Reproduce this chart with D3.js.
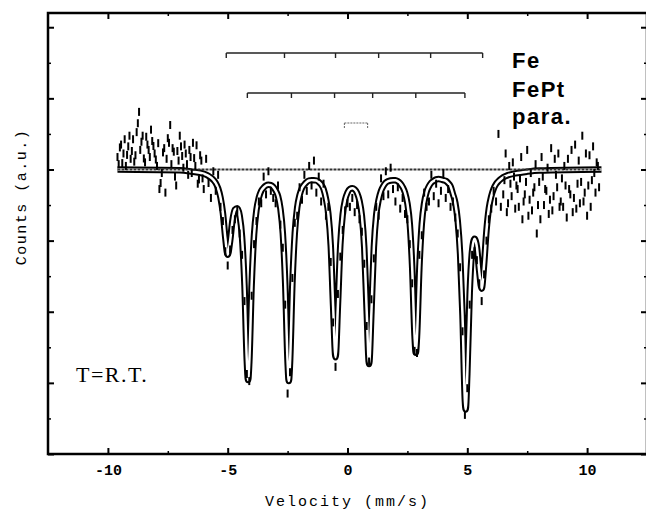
<!DOCTYPE html>
<html>
<head>
<meta charset="utf-8">
<script src="https://cdn.jsdelivr.net/npm/d3@7"></script>
<style>
  body { margin: 0; background: #fff; }
</style>
</head>
<body>
<div id="plot"></div>
<script>
// measured spectrum: [velocity (mm/s), relative counts (%)]
const spectrum = [
  [-9.6,100.35],[-9.5,100.62],[-9.4,100.18],[-9.3,100.85],[-9.2,100.41],[-9.1,100.95],[-9.0,100.52],[-8.9,100.22],
  [-8.8,101.05],[-8.7,101.62],[-8.6,100.78],[-8.5,100.31],[-8.4,100.92],[-8.3,100.55],[-8.2,101.12],[-8.1,100.66],
  [-8.0,100.28],[-7.9,100.74],[-7.8,99.62],[-7.7,100.48],[-7.6,99.35],[-7.5,100.88],[-7.4,101.25],[-7.3,100.60],
  [-7.2,99.80],[-7.1,100.52],[-7.0,100.95],[-6.9,100.38],[-6.8,100.70],[-6.7,100.15],[-6.6,100.55],[-6.5,99.90],
  [-6.4,100.32],[-6.3,100.68],[-6.2,99.72],[-6.1,100.25],
  [-6.0,99.45],[-5.9,100.30],[-5.8,99.62],[-5.7,99.20],[-5.6,99.95],[-5.5,99.40],[-5.4,99.85],[-5.3,98.95],
  [-5.2,98.55],[-5.1,97.70],[-5.0,97.30],[-4.9,97.75],[-4.8,98.30],[-4.7,98.60],[-4.6,98.85],[-4.5,98.20],
  [-4.4,97.60],[-4.3,96.30],[-4.2,94.25],[-4.1,94.05],[-4.0,96.45],[-3.9,97.90],[-3.8,98.55],[-3.7,99.10],
  [-3.6,99.05],[-3.5,99.80],[-3.4,99.30],[-3.3,99.95],[-3.2,99.40],[-3.1,99.20],[-3.0,99.05],[-2.9,99.55],
  [-2.8,98.45],[-2.7,97.80],[-2.6,96.20],[-2.5,93.70],[-2.4,94.30],[-2.3,96.95],[-2.2,98.50],[-2.1,98.70],
  [-2.0,99.50],[-1.9,99.15],[-1.8,99.85],[-1.7,99.40],[-1.6,100.10],[-1.5,99.55],[-1.4,100.25],[-1.3,99.35],
  [-1.2,99.80],[-1.1,99.10],[-1.0,99.60],[-0.9,98.70],[-0.8,98.95],[-0.7,97.40],[-0.6,95.70],[-0.5,94.45],
  [-0.4,96.50],[-0.3,97.55],[-0.2,98.30],[-0.1,98.85],[0.0,99.05],[0.1,98.95],[0.2,99.20],[0.3,98.80],
  [0.4,99.00],[0.5,98.60],[0.6,98.25],[0.7,97.35],[0.8,95.60],[0.9,94.60],[1.0,96.35],[1.1,97.50],
  [1.2,98.95],[1.3,98.70],[1.4,99.75],[1.5,99.25],[1.6,99.95],[1.7,99.30],[1.8,100.05],[1.9,99.45],
  [2.0,99.10],[2.1,99.50],[2.2,98.90],[2.3,99.20],[2.4,98.75],[2.5,98.60],[2.6,97.90],[2.7,96.80],
  [2.8,94.90],[2.9,94.84],[3.0,97.60],[3.1,98.15],[3.2,99.35],[3.3,98.95],[3.4,99.10],[3.5,99.85],
  [3.6,99.25],[3.7,99.60],[3.8,99.05],[3.9,99.40],[4.0,99.90],[4.1,99.20],[4.2,99.45],[4.3,98.95],
  [4.4,99.10],[4.5,98.65],[4.6,98.20],[4.7,97.25],[4.8,95.45],[4.9,93.10],[5.0,93.85],[5.1,96.20],
  [5.2,97.60],[5.3,97.70],[5.4,97.45],[5.5,96.80],[5.6,96.30],[5.7,97.05],[5.8,98.00],[5.9,98.60],
  [6.0,98.90],[6.1,99.40],[6.2,99.10],[6.3,101.00],[6.4,98.95],[6.5,99.30],
  [6.6,100.45],[6.7,99.05],[6.8,99.60],[6.9,100.20],[7.0,98.90],[7.1,99.45],[7.2,99.75],[7.3,98.60],
  [7.4,99.30],[7.5,100.55],[7.6,99.15],[7.7,98.85],[7.8,99.50],[7.9,98.20],[8.0,99.65],[8.1,100.35],
  [8.2,99.00],[8.3,99.40],[8.4,98.75],[8.5,100.60],[8.6,99.25],[8.7,99.85],[8.8,100.45],[8.9,99.10],
  [9.0,98.95],[9.1,99.55],[9.2,100.30],[9.3,99.30],[9.4,98.80],[9.5,100.70],[9.6,99.60],[9.7,99.05],
  [9.8,100.95],[9.9,99.35],[10.0,98.70],[10.1,100.40],[10.2,99.70],[10.3,99.90],[10.4,100.20],[10.5,99.50],
  // second sweep on the wings
  [-9.55,100.15],[-9.45,100.70],[-9.35,100.45],[-9.25,100.10],[-9.15,100.65],[-9.05,100.30],[-8.95,100.85],[-8.85,100.40],
  [-8.75,101.30],[-8.65,100.55],[-8.55,100.95],[-8.45,100.20],[-8.35,100.70],[-8.25,100.35],[-8.15,100.80],[-8.05,100.45],
  [-7.95,100.10],[-7.85,99.45],[-7.75,99.90],[-7.65,100.60],[-7.55,100.30],[-7.45,100.75],[-7.35,100.15],[-7.25,100.50],
  [-7.15,99.55],[-7.05,100.25],[-6.95,100.65],[-6.85,100.05],[-6.75,100.45],[-6.65,99.85],[-6.55,100.35],[-6.45,100.75],
  [-6.35,100.10],[-6.25,99.60],[-6.15,100.40],[-6.05,99.75],
  [6.55,99.70],[6.65,98.80],[6.75,100.10],[6.85,99.25],[6.95,99.80],[7.05,99.55],[7.15,98.95],[7.25,100.35],
  [7.35,99.10],[7.45,99.65],[7.55,98.70],[7.65,99.90],[7.75,99.35],[7.85,100.15],[7.95,99.00],[8.05,98.60],
  [8.15,99.80],[8.25,99.45],[8.35,100.05],[8.45,99.15],[8.55,98.85],[8.65,100.30],[8.75,99.50],[8.85,98.95],
  [8.95,99.75],[9.05,100.10],[9.15,98.65],[9.25,99.45],[9.35,100.55],[9.45,99.20],[9.55,98.90],[9.65,100.25],
  [9.75,99.65],[9.85,99.10],[9.95,100.45],[10.05,99.55],[10.15,98.95],[10.25,100.65],[10.35,99.35],[10.45,100.10]
];

// fitted envelope: [velocity, counts]
const fitCurve = [
  [-9.6,100.00],[-7.0,99.98],[-6.5,99.94],[-6.0,99.88],[-5.8,99.82],[-5.6,99.71],[-5.5,99.62],[-5.4,99.47],
  [-5.3,99.21],[-5.2,98.77],[-5.1,98.08],[-5.0,97.60],[-4.9,97.99],[-4.8,98.57],[-4.7,98.87],[-4.6,98.91],
  [-4.5,98.70],[-4.4,98.09],[-4.3,96.75],[-4.2,94.59],[-4.15,94.08],[-4.1,94.57],[-4.0,96.77],[-3.9,98.17],
  [-3.8,98.86],[-3.7,99.21],[-3.6,99.40],[-3.5,99.49],[-3.4,99.55],[-3.3,99.57],[-3.2,99.56],[-3.1,99.51],
  [-3.0,99.41],[-2.9,99.25],[-2.8,98.90],[-2.7,98.21],[-2.6,96.80],[-2.5,94.58],[-2.45,94.05],[-2.4,94.55],
  [-2.3,96.79],[-2.2,98.21],[-2.1,98.93],[-2.0,99.28],[-1.9,99.48],[-1.8,99.58],[-1.7,99.65],[-1.6,99.69],
  [-1.5,99.70],[-1.4,99.70],[-1.3,99.69],[-1.2,99.65],[-1.1,99.58],[-1.0,99.45],[-0.9,99.18],[-0.8,98.75],
  [-0.7,97.87],[-0.6,96.16],[-0.5,94.72],[-0.4,96.18],[-0.3,97.88],[-0.2,98.74],[-0.1,99.15],[0.0,99.35],
  [0.1,99.45],[0.2,99.47],[0.3,99.44],[0.4,99.34],[0.5,99.12],[0.6,98.70],[0.7,97.80],[0.8,96.04],
  [0.9,94.53],[1.0,96.02],[1.1,97.81],[1.2,98.73],[1.3,99.15],[1.4,99.40],[1.5,99.54],[1.6,99.63],
  [1.7,99.67],[1.8,99.69],[1.9,99.70],[2.0,99.70],[2.1,99.67],[2.2,99.61],[2.3,99.51],[2.4,99.35],
  [2.5,99.05],[2.6,98.47],[2.7,97.24],[2.8,95.30],[2.85,94.85],[2.9,95.30],[3.0,97.24],[3.1,98.47],
  [3.2,99.06],[3.3,99.37],[3.4,99.53],[3.5,99.63],[3.6,99.68],[3.7,99.72],[3.8,99.73],[3.9,99.72],
  [4.0,99.70],[4.1,99.68],[4.2,99.62],[4.3,99.53],[4.4,99.31],[4.5,99.06],[4.6,98.56],[4.7,97.62],
  [4.8,95.90],[4.9,93.49],[4.93,93.25],[5.0,94.25],[5.1,96.53],[5.2,97.71],[5.3,98.05],[5.4,97.82],
  [5.5,97.12],[5.6,96.65],[5.7,97.33],[5.8,98.28],[5.9,98.91],[6.0,99.25],[6.1,99.46],[6.2,99.59],
  [6.3,99.67],[6.4,99.73],[6.5,99.78],[6.7,99.84],[7.0,99.89],[7.5,99.94],[8.0,99.97],[10.6,100.00]
];

// stick diagrams (line positions, mm/s)
const feLines = [-5.06, -2.63, -0.50, 1.30, 3.47, 5.64];
const feptLines = [-4.18, -2.34, -0.54, 1.05, 2.85, 4.90];
const paraLines = [-0.13, 0.84];
const legendNames = ['Fe', 'FePt', 'para.'];

const xTicks = [-10, -5, 0, 5, 10];
const xMinorTicks = [-7.5, -2.5, 2.5, 7.5];
const yTicks = [92, 94, 96, 98, 100, 102, 104];
const yMinorTicks = [93, 95, 97, 99, 101, 103];

const width = 646;
const height = 516;
const margin = {top: 13, right: -1, bottom: 62, left: 48};

const svg = d3.select('#plot')
    .append('svg')
    .attr('width', width)
    .attr('height', height)
    .attr('viewBox', [0, 0, width, height]);

const x = d3.scaleLinear()
    .domain([-12.5, 12.5])
    .range([margin.left, width - margin.right]);

const y = d3.scaleLinear()
    .domain([92, 104.4])
    .range([height - margin.bottom, margin.top]);

const axisFont = 'Liberation Mono, DejaVu Sans Mono, monospace';

// ticks on all four sides, pointing inward
function ticks(g, axis, major, minor, labels) {
    g.call(axis.tickValues(major).tickSize(-6).tickPadding(10)
            .tickFormat(labels ? d3.format('d') : ''))
        .call(g => g.select('.domain').remove())
        .call(g => g.selectAll('line').attr('stroke-width', 2));
    g.append('g').call(axis.tickValues(minor).tickSize(-3).tickFormat(''))
        .call(g => g.select('.domain').remove())
        .call(g => g.selectAll('line').attr('stroke-width', 1.5));
}

svg.append('g')
    .attr('transform', `translate(0,${height - margin.bottom})`)
    .call(g => ticks(g, d3.axisBottom(x), xTicks, xMinorTicks, true))
    .attr('font-family', axisFont)
    .attr('font-size', 15)
    .attr('font-weight', 'bold');

svg.append('g')
    .attr('transform', `translate(0,${margin.top})`)
    .call(g => ticks(g, d3.axisTop(x), xTicks, xMinorTicks, false));

svg.append('g')
    .attr('transform', `translate(${margin.left},0)`)
    .call(g => ticks(g, d3.axisLeft(y), yTicks, yMinorTicks, false));

svg.append('g')
    .attr('transform', `translate(${width - margin.right},0)`)
    .call(g => ticks(g, d3.axisRight(y), yTicks, yMinorTicks, false));

svg.selectAll('.tick text').text(function() {
    return this.textContent.replace('\u2212', '-');
});

// frame
svg.append('rect')
    .attr('x', margin.left)
    .attr('y', margin.top)
    .attr('width', width - margin.right - margin.left)
    .attr('height', height - margin.bottom - margin.top)
    .attr('fill', 'none')
    .attr('stroke', '#000')
    .attr('stroke-width', 2.5);

// fitted curve, drawn as a hollow thick line like the scan
const line = d3.line()
    .x(d => x(d[0]))
    .y(d => y(d[1]))
    .curve(d3.curveMonotoneX);

svg.append('path')
    .datum(fitCurve)
    .attr('fill', 'none')
    .attr('stroke', '#000')
    .attr('stroke-width', 6.5)
    .attr('d', line);

svg.append('path')
    .datum(fitCurve)
    .attr('fill', 'none')
    .attr('stroke', '#fff')
    .attr('stroke-width', 2.5)
    .attr('d', line);

// baseline
svg.append('line')
    .attr('x1', x(-9.6))
    .attr('x2', x(10.6))
    .attr('y1', y(100))
    .attr('y2', y(100))
    .attr('stroke', '#333')
    .attr('stroke-width', 2)
    .attr('stroke-dasharray', '3,1');

// data points (short vertical marks)
svg.append('g')
    .attr('stroke', '#000')
    .attr('stroke-width', 2)
    .selectAll('line')
    .data(spectrum)
    .join('line')
    .attr('x1', d => x(d[0]))
    .attr('x2', d => x(d[0]))
    .attr('y1', d => y(d[1]) - 4)
    .attr('y2', d => y(d[1]) + 4);

// stick diagrams
const stickLevels = [53, 93, 123];
[feLines, feptLines, paraLines].forEach((lines, i) => {
    const g = svg.append('g')
        .attr('stroke', i === 2 ? '#666' : '#222')
        .attr('stroke-width', i === 2 ? 1 : 1.4)
        .attr('stroke-dasharray', i === 2 ? '2,1' : null);
    g.append('line')
        .attr('x1', x(d3.min(lines)))
        .attr('x2', x(d3.max(lines)))
        .attr('y1', stickLevels[i])
        .attr('y2', stickLevels[i]);
    g.selectAll('.stick')
        .data(lines)
        .join('line')
        .attr('class', 'stick')
        .attr('x1', d => x(d))
        .attr('x2', d => x(d))
        .attr('y1', stickLevels[i])
        .attr('y2', stickLevels[i] + 5);
});

svg.append('g')
    .attr('font-family', 'Liberation Sans, Arial, sans-serif')
    .attr('font-weight', 'bold')
    .attr('font-size', 22)
    .attr('letter-spacing', 1.5)
    .selectAll('text')
    .data(legendNames)
    .join('text')
    .attr('x', 512)
    .attr('y', (d, i) => [68, 97, 124][i])
    .text(d => d);

// labels
svg.append('text')
    .attr('x', 76)
    .attr('y', 382)
    .attr('font-family', 'Liberation Serif, Times New Roman, serif')
    .attr('font-size', 22)
    .attr('letter-spacing', 1.5)
    .text('T=R.T.');

svg.append('text')
    .attr('x', (margin.left + width - margin.right) / 2)
    .attr('y', 506)
    .attr('text-anchor', 'middle')
    .attr('font-family', axisFont)
    .attr('font-size', 15)
    .attr('letter-spacing', 2)
    .text('Velocity (mm/s)');

svg.append('text')
    .attr('transform', 'translate(22,197) rotate(-90)')
    .attr('text-anchor', 'middle')
    .attr('dominant-baseline', 'central')
    .attr('font-family', axisFont)
    .attr('font-size', 15)
    .attr('letter-spacing', 1.5)
    .text('Counts (a.u.)');
</script>
</body>
</html>
